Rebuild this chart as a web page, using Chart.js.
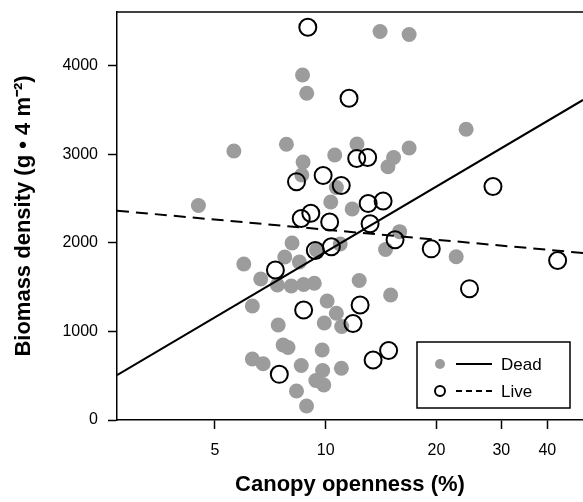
<!DOCTYPE html>
<html>
<head>
<meta charset="utf-8">
<script src="https://cdn.jsdelivr.net/npm/chart.js@4/dist/chart.umd.min.js"></script>
<style>
  html, body { margin: 0; padding: 0; background: #fff; }
  canvas { display: block; }
</style>
</head>
<body>
<canvas id="chart" width="583" height="502"></canvas>
<script>
// Biomass density vs canopy openness, dead (grey dots) and live (open circles).
const deadX = [14.05, 16.85, 8.65, 8.88, 24.07, 7.82, 12.16, 16.85, 5.63, 10.58,
  15.29, 8.68, 14.76, 8.61, 10.69, 4.51, 10.32, 11.80, 15.88, 14.54,
  22.62, 8.10, 7.74, 8.48, 5.99, 9.44, 10.95, 6.66, 7.39, 8.06,
  8.71, 9.31, 12.33, 6.32, 10.09, 15.01, 10.69, 7.43, 9.91, 11.05,
  7.66, 7.90, 9.78, 6.32, 6.76, 8.58, 9.81, 11.03, 9.40, 9.88,
  8.33, 8.87];
const deadY = [4390, 4356, 3898, 3692, 3285, 3115, 3119, 3073, 3040, 2994,
  2966, 2915, 2862, 2768, 2627, 2424, 2463, 2384, 2128, 1927,
  1845, 2000, 1842, 1785, 1763, 1921, 1989, 1593, 1525, 1514,
  1531, 1545, 1576, 1288, 1345, 1412, 1206, 1073, 1096, 1056,
  847, 819, 791, 689, 636, 616, 559, 584, 446, 395,
  328, 158];

const liveX = [8.94, 11.57, 12.14, 13.00, 8.33, 9.84, 11.02, 8.58, 9.11, 10.25,
  13.04, 14.32, 13.20, 15.43, 19.35, 9.37, 10.36, 7.30, 8.71, 7.48,
  28.47, 42.66, 24.58, 12.40, 11.86, 13.45, 14.82];
const liveY = [4437, 3635, 2955, 2966, 2693, 2763, 2650, 2277, 2336, 2237,
  2446, 2475, 2217, 2036, 1934, 1915, 1958, 1695, 1243, 516,
  2638, 1802, 1484, 1299, 1090, 678, 785];

// fitted lines, read at the two edges of the plot
const fitX = [2.71, 50];
const deadFitY = [508, 3616];
const liveFitY = [2365, 1887];

const xTicks = [5, 10, 20, 30, 40];
const yTicks = [0, 1000, 2000, 3000, 4000];

const deadColor = "#9c9c9c";
const ink = "#000";

function toPoints(xs, ys) {
  return xs.map((x, i) => ({ x: x, y: ys[i] }));
}

// scales should not push the plot area around for their edge labels
function noEdgePadding(scale) {
  scale.paddingLeft = 0;
  scale.paddingRight = 0;
  scale.paddingTop = 0;
  scale.paddingBottom = 0;
}

// top edge of the frame (left and bottom come from the axes)
const framePlugin = {
  id: "frame",
  afterDraw(chart) {
    const { ctx, chartArea: a } = chart;
    ctx.save();
    ctx.strokeStyle = ink;
    ctx.lineWidth = 1.5;
    ctx.beginPath();
    ctx.moveTo(a.left, a.top);
    ctx.lineTo(a.right, a.top);
    ctx.stroke();
    ctx.restore();
  },
};

// boxed legend in the lower right corner
const legendPlugin = {
  id: "boxLegend",
  afterDraw(chart) {
    const ctx = chart.ctx;
    const x = 417, y = 342, w = 153, h = 66;
    ctx.save();
    ctx.fillStyle = "#fff";
    ctx.fillRect(x, y, w, h);
    ctx.strokeStyle = ink;
    ctx.lineWidth = 1.5;
    ctx.strokeRect(x, y, w, h);

    const rows = [
      { label: "Dead", cy: y + 22, dash: [], filled: true },
      { label: "Live", cy: y + 49, dash: [6, 4], filled: false },
    ];
    ctx.font = "17px 'Liberation Sans', Arial, sans-serif";
    ctx.textBaseline = "middle";
    rows.forEach((r) => {
      ctx.beginPath();
      ctx.arc(x + 23, r.cy, 5, 0, Math.PI * 2);
      if (r.filled) {
        ctx.fillStyle = deadColor;
        ctx.fill();
      } else {
        ctx.lineWidth = 2;
        ctx.strokeStyle = ink;
        ctx.stroke();
      }
      ctx.beginPath();
      ctx.setLineDash(r.dash);
      ctx.lineWidth = 1.8;
      ctx.strokeStyle = ink;
      ctx.moveTo(x + 39, r.cy);
      ctx.lineTo(x + 75, r.cy);
      ctx.stroke();
      ctx.setLineDash([]);
      ctx.fillStyle = ink;
      ctx.fillText(r.label, x + 84, r.cy + 1);
    });
    ctx.restore();
  },
};

const titleFont = { family: "'Liberation Sans', Arial, sans-serif", size: 22, weight: "bold" };
const tickFont = { family: "'Liberation Sans', Arial, sans-serif", size: 16 };

new Chart(document.getElementById("chart").getContext("2d"), {
  type: "scatter",
  data: {
    datasets: [
      {
        label: "Dead fit",
        data: toPoints(fitX, deadFitY),
        showLine: true,
        borderColor: ink,
        borderWidth: 2,
        pointRadius: 0,
        order: 0,
      },
      {
        label: "Live fit",
        data: toPoints(fitX, liveFitY),
        showLine: true,
        borderColor: ink,
        borderWidth: 2,
        borderDash: [12, 7],
        pointRadius: 0,
        order: 1,
      },
      {
        label: "Live",
        data: toPoints(liveX, liveY),
        pointRadius: 8.5,
        pointBorderWidth: 2,
        pointBorderColor: ink,
        pointBackgroundColor: "rgba(0,0,0,0)",
        order: 2,
      },
      {
        label: "Dead",
        data: toPoints(deadX, deadY),
        pointRadius: 7.5,
        pointBorderWidth: 0,
        pointBackgroundColor: deadColor,
        order: 3,
      },
    ],
  },
  options: {
    responsive: false,
    animation: false,
    layout: { autoPadding: false, padding: { top: 12, right: 0, left: 0, bottom: 0 } },
    plugins: {
      legend: { display: false },
      tooltip: { enabled: false },
    },
    scales: {
      x: {
        type: "logarithmic",
        min: 2.71,
        max: 50,
        afterBuildTicks: (scale) => { scale.ticks = xTicks.map((v) => ({ value: v })); },
        afterFit: (scale) => { scale.height = 82; noEdgePadding(scale); },
        grid: { drawOnChartArea: false, drawTicks: true, tickLength: 9, tickColor: ink, tickWidth: 1.5 },
        border: { display: true, color: ink, width: 1.5 },
        ticks: { color: ink, font: tickFont, padding: 12, maxRotation: 0, autoSkip: false,
          callback: (v) => String(v) },
        title: { display: true, text: "Canopy openness (%)", color: ink, font: titleFont,
          padding: { top: 0, bottom: 4 } },
      },
      y: {
        min: 0,
        max: 4610,
        afterBuildTicks: (scale) => { scale.ticks = yTicks.map((v) => ({ value: v })); },
        afterFit: (scale) => { scale.width = 117; noEdgePadding(scale); },
        grid: { drawOnChartArea: false, drawTicks: true, tickLength: 9, tickColor: ink, tickWidth: 1.5 },
        border: { display: true, color: ink, width: 1.5 },
        ticks: { color: ink, font: tickFont, padding: 10, callback: (v) => String(v) },
        title: { display: true, text: "Biomass density (g • 4 m⁻²)", color: ink, font: titleFont,
          padding: { top: 11, bottom: 0 } },
      },
    },
  },
  plugins: [framePlugin, legendPlugin],
});
</script>
</body>
</html>
